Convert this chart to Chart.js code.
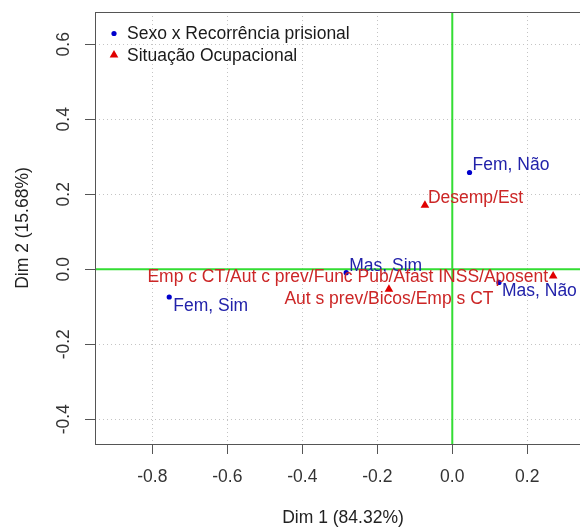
<!DOCTYPE html>
<html>
<head>
<meta charset="utf-8">
<script src="https://cdn.jsdelivr.net/npm/chart.js@4/dist/chart.umd.min.js"></script>
<style>
  html, body { margin: 0; padding: 0; overflow: hidden; background: #ffffff; }
  #wrap { width: 620px; height: 529px; }
</style>
</head>
<body>
<div id="wrap"><canvas id="chart" width="620" height="529"></canvas></div>
<script>
// Row categories: Sexo x Recorrência prisional
const rowNames = ['Fem, Não', 'Fem, Sim', 'Mas, Não', 'Mas, Sim'];
const rowDim1  = [0.046, -0.755, 0.1245, -0.283];
const rowDim2  = [0.258, -0.074, -0.035, -0.009];

// Column categories: Situação Ocupacional
const colNames = ['Desemp/Est', 'Emp c CT/Aut c prev/Func Pub/Afast INSS/Aposent', 'Aut s prev/Bicos/Emp s CT'];
const colDim1  = [-0.073, 0.269, -0.169];
const colDim2  = [0.171, -0.018, -0.053];

// Axes
const xTicks = [-0.8, -0.6, -0.4, -0.2, 0.0, 0.2];
const yTicks = [-0.4, -0.2, 0.0, 0.2, 0.4, 0.6];
const xRange = [-0.953, 0.37];
const yRange = [-0.466, 0.686];
const xTitle = 'Dim 1 (84.32%)';
const yTitle = 'Dim 2 (15.68%)';
const legendNames = ['Sexo x Recorrência prisional', 'Situação Ocupacional'];

// ---- styling ----
const FONT_FAMILY = '"Liberation Sans", Arial, Helvetica, sans-serif';
const FONT_SIZE = 17.5;
const BLUE_PT = '#0000cc', BLUE_TXT = '#2222aa';
const RED_PT = '#e00000',  RED_TXT = '#cc2626';
const GREEN = '#33dd33';
const AXIS = '#555555';

// where each label sits relative to its marker
const labelPlacement = {
  'Fem, Não':   { align: 'left',   dx: 3,  dy: -7.5 },
  'Fem, Sim':   { align: 'left',   dx: 4,  dy: 9.5 },
  'Mas, Não':   { align: 'left',   dx: 3,  dy: 9 },
  'Mas, Sim':   { align: 'left',   dx: 3,  dy: -6.5 },
  'Desemp/Est': { align: 'left',   dx: 3,  dy: -7 },
  'Emp c CT/Aut c prev/Func Pub/Afast INSS/Aposent': { align: 'right', dx: -5, dy: 1.5 },
  'Aut s prev/Bicos/Emp s CT': { align: 'center', dx: 0, dy: 10 }
};

const font = { family: FONT_FAMILY, size: FONT_SIZE };

// Green reference lines through the origin
const originLines = {
  id: 'originLines',
  beforeDatasetsDraw(chart) {
    const { ctx, chartArea: a, scales: { x, y } } = chart;
    const x0 = x.getPixelForValue(0), y0 = y.getPixelForValue(0);
    ctx.save();
    ctx.beginPath();
    ctx.rect(a.left, a.top, a.right - a.left, a.bottom - a.top);
    ctx.clip();
    ctx.strokeStyle = GREEN;
    ctx.lineWidth = 2;
    ctx.beginPath();
    ctx.moveTo(x0, a.top); ctx.lineTo(x0, a.bottom);
    ctx.moveTo(a.left, y0); ctx.lineTo(a.right, y0);
    ctx.stroke();
    ctx.restore();
  }
};

// Text labels next to each marker
const pointLabels = {
  id: 'pointLabels',
  afterDatasetsDraw(chart) {
    const { ctx } = chart;
    ctx.save();
    ctx.font = FONT_SIZE + 'px ' + FONT_FAMILY;
    ctx.textBaseline = 'middle';
    chart.data.datasets.forEach((ds, di) => {
      const meta = chart.getDatasetMeta(di);
      meta.data.forEach((el, i) => {
        const name = ds.names[i];
        const p = labelPlacement[name] || { align: 'left', dx: 3, dy: -8 };
        ctx.fillStyle = ds.textColor;
        ctx.textAlign = p.align;
        ctx.fillText(name, el.x + p.dx, el.y + p.dy);
      });
    });
    ctx.restore();
  }
};

// Box frame and legend
const frameAndLegend = {
  id: 'frameAndLegend',
  afterDraw(chart) {
    const { ctx, chartArea: a } = chart;
    ctx.save();
    ctx.strokeStyle = AXIS;
    ctx.lineWidth = 1;
    ctx.strokeRect(Math.round(a.left) + 0.5, Math.round(a.top) + 0.5,
                   Math.round(a.right - a.left), Math.round(a.bottom - a.top));

    // legend
    const sx = a.left + 19, tx = a.left + 32;
    const y1 = a.top + 21.5, y2 = a.top + 43;
    ctx.fillStyle = BLUE_PT;
    ctx.beginPath(); ctx.arc(sx, y1, 2.6, 0, Math.PI * 2); ctx.fill();
    ctx.fillStyle = RED_PT;
    ctx.beginPath();
    ctx.moveTo(sx, y2 - 5);
    ctx.lineTo(sx + 4.33, y2 + 2.5);
    ctx.lineTo(sx - 4.33, y2 + 2.5);
    ctx.closePath(); ctx.fill();
    ctx.fillStyle = '#1a1a1a';
    ctx.font = FONT_SIZE + 'px ' + FONT_FAMILY;
    ctx.textBaseline = 'middle';
    ctx.textAlign = 'left';
    ctx.fillText(legendNames[0], tx, y1 + 1);
    ctx.fillText(legendNames[1], tx, y2 + 1);
    ctx.restore();
  }
};

const fmt = v => Number(v).toFixed(1);

new Chart(document.getElementById('chart'), {
  type: 'scatter',
  data: {
    datasets: [
      {
        label: legendNames[0],
        names: rowNames,
        textColor: BLUE_TXT,
        data: rowDim1.map((v, i) => ({ x: v, y: rowDim2[i] })),
        pointStyle: 'circle',
        pointRadius: 2.6,
        pointHoverRadius: 2.6,
        backgroundColor: BLUE_PT,
        borderWidth: 0
      },
      {
        label: legendNames[1],
        names: colNames,
        textColor: RED_TXT,
        data: colDim1.map((v, i) => ({ x: v, y: colDim2[i] })),
        pointStyle: 'triangle',
        pointRadius: 5,
        pointHoverRadius: 5,
        backgroundColor: RED_PT,
        borderWidth: 0
      }
    ]
  },
  options: {
    responsive: false,
    animation: false,
    devicePixelRatio: 1,
    layout: { padding: { left: 0, top: 12, right: 29, bottom: 0 }, autoPadding: false },
    plugins: {
      legend: { display: false },
      tooltip: { enabled: false }
    },
    scales: {
      x: {
        type: 'linear',
        position: 'bottom',
        min: xRange[0],
        max: xRange[1],
        afterBuildTicks: s => { s.ticks = xTicks.map(v => ({ value: v })); },
        afterFit: s => { s.height = 85; s.paddingLeft = 0; s.paddingRight = 0; },
        ticks: { font, color: '#333333', padding: 13, callback: fmt, autoSkip: false, maxRotation: 0 },
        grid: { color: '#c4c4c4', lineWidth: 1, tickLength: 10, tickColor: AXIS, tickWidth: 1 },
        border: { display: false, dash: [1, 3] },
        title: { display: true, text: xTitle, font, color: '#222222', padding: { top: 0, bottom: 0 } }
      },
      y: {
        type: 'linear',
        position: 'left',
        min: yRange[0],
        max: yRange[1],
        afterBuildTicks: s => { s.ticks = yTicks.map(v => ({ value: v })); },
        afterFit: s => { s.width = 95; s.paddingTop = 0; s.paddingBottom = 0; },
        ticks: { font, color: '#333333', padding: 6, callback: fmt, autoSkip: false,
                 minRotation: 90, maxRotation: 90, crossAlign: 'center' },
        grid: { color: '#c4c4c4', lineWidth: 1, tickLength: 10, tickColor: AXIS, tickWidth: 1 },
        border: { display: false, dash: [1, 3] },
        title: { display: true, text: yTitle, font, color: '#222222', padding: { top: 12.5, bottom: 0 } }
      }
    }
  },
  plugins: [originLines, pointLabels, frameAndLegend]
});
</script>
</body>
</html>
